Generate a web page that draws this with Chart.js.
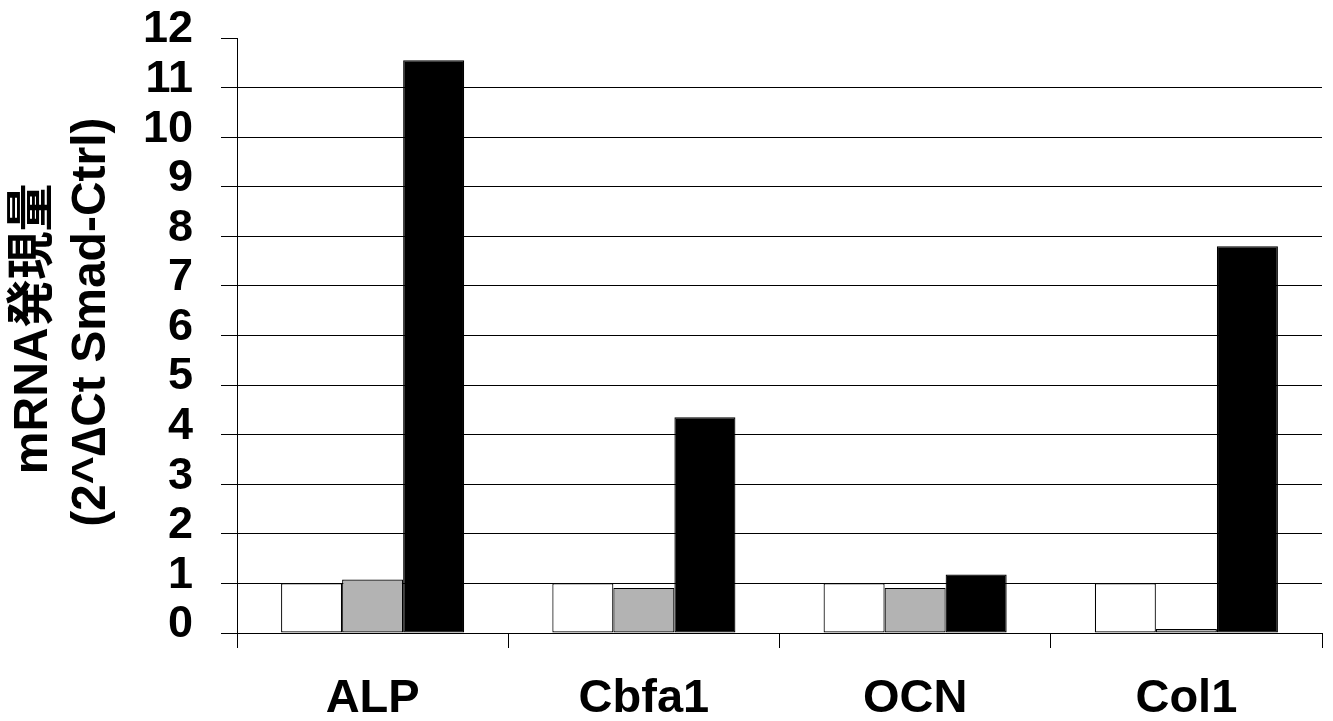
<!DOCTYPE html>
<html>
<head>
<meta charset="utf-8">
<script src="https://cdn.jsdelivr.net/npm/chart.js@4"></script>
<style>
  html, body { margin: 0; padding: 0; background: #fff; }
  #wrap { width: 1333px; height: 721px; }
</style>
</head>
<body>
<div id="wrap"><canvas id="chart"></canvas></div>
<script>
const categories = ['ALP', 'Cbfa1', 'OCN', 'Col1'];
const ctrlValues = [1, 1, 1, 1];
const grayValues = [1.08, 0.91, 0.91, 0.08];
const blackValues = [11.55, 4.35, 1.18, 7.8];
const yTicks = [0, 1, 2, 3, 4, 5, 6, 7, 8, 9, 10, 11, 12];
// leading spaces nudge each rotated line a little upward, like the original
const yTitle = [' mRNA発現量', '  (2^∆Ct Smad-Ctrl)'];

const FONT = "'Liberation Sans', Arial, 'Noto Sans CJK JP', sans-serif";

const bar = (data, fill) => ({
  data,
  backgroundColor: fill,
  borderColor: '#000',
  borderWidth: 1.2,
  borderSkipped: false,
  categoryPercentage: 0.675,
  barPercentage: 1.0
});

new Chart(document.getElementById('chart'), {
  type: 'bar',
  data: {
    labels: categories,
    datasets: [bar(ctrlValues, '#ffffff'), bar(grayValues, '#b3b3b3'), bar(blackValues, '#000000')]
  },
  options: {
    responsive: true,
    maintainAspectRatio: false,
    animation: false,
    layout: { padding: { top: 38, right: 11, left: 0, bottom: 0 } },
    plugins: { legend: { display: false }, tooltip: { enabled: false } },
    scales: {
      x: {
        grid: { offset: true, drawOnChartArea: false, color: '#000', tickLength: 15, lineWidth: 1 },
        border: { color: '#000', width: 1 },
        ticks: { color: '#000', padding: 23, font: { family: FONT, size: 47, weight: 'bold' } },
        afterFit(s) { s.height = 88; }
      },
      y: {
        min: 0,
        max: 12,
        afterBuildTicks(s) { s.ticks = yTicks.map(v => ({ value: v })); },
        grid: {
          color: c => (c.tick && c.tick.value === 12 ? 'rgba(0,0,0,0)' : '#000'),
          tickColor: '#000',
          tickLength: 16,
          lineWidth: 1
        },
        border: { color: '#000', width: 1 },
        ticks: {
          color: '#000',
          autoSkip: false,
          padding: 28,
          labelOffset: -8,
          font: { family: FONT, size: 45, weight: 'bold', lineHeight: 0.4 }
        },
        title: {
          display: true,
          text: yTitle,
          color: '#000',
          padding: { top: 5, bottom: 0 },
          font: { family: FONT, size: 48, weight: 'bold', lineHeight: 1.2 }
        },
        afterFit(s) { s.width = 237; }
      }
    }
  }
});
</script>
</body>
</html>
